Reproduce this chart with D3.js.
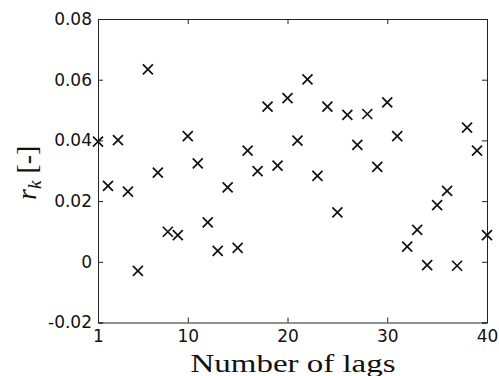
<!DOCTYPE html>
<html>
<head>
<meta charset="utf-8">
<script src="https://cdn.jsdelivr.net/npm/d3@7"></script>
<style>
  html, body { margin: 0; padding: 0; background: #fff; }
  svg { display: block; }
</style>
</head>
<body>
<svg id="chart" width="499" height="376"></svg>
<script>
// Sample autocorrelation r_k for lags 1..40
const lags = d3.range(1, 41);
const rk = [
  0.0396, 0.0250, 0.0401, 0.0231, -0.0030, 0.0634, 0.0294, 0.0099, 0.0088, 0.0414,
  0.0324, 0.0130, 0.0036, 0.0245, 0.0046, 0.0366, 0.0299, 0.0511, 0.0317, 0.0539,
  0.0399, 0.0601, 0.0283, 0.0511, 0.0163, 0.0484, 0.0385, 0.0487, 0.0313, 0.0525,
  0.0414, 0.0050, 0.0105, -0.0011, 0.0187, 0.0234, -0.0013, 0.0442, 0.0366, 0.0088
];
const xTicks = [1, 10, 20, 30, 40];
const yTicks = [-0.02, 0, 0.02, 0.04, 0.06, 0.08];
const xDomain = [1, 40];
const yDomain = [-0.02, 0.08];
const xLabel = "Number of lags";

const plotL = 98, plotR = 487, plotT = 19, plotB = 322.5;
const svg = d3.select("#chart");

const x = d3.scaleLinear().domain(xDomain).range([plotL, plotR]);
const y = d3.scaleLinear().domain(yDomain).range([plotB, plotT]);

const fmtY = v => v === 0 ? "0" : d3.format(".2f")(v).replace("\u2212", "-");
const tickFont = "'DejaVu Sans', sans-serif";
const ink = "#222";

// Axes with inward ticks on all four sides
const axes = [
  { gen: d3.axisBottom(x).tickValues(xTicks).tickSize(-5).tickPadding(7).tickFormat(d3.format("d")), t: `translate(0,${plotB})` },
  { gen: d3.axisTop(x).tickValues(xTicks).tickSize(-5).tickFormat(""), t: `translate(0,${plotT})` },
  { gen: d3.axisLeft(y).tickValues(yTicks).tickSize(-5).tickPadding(6).tickFormat(fmtY), t: `translate(${plotL},0)` },
  { gen: d3.axisRight(y).tickValues(yTicks).tickSize(-5).tickFormat(""), t: `translate(${plotR},0)` }
];
axes.forEach(a => {
  const g = svg.append("g").attr("transform", a.t).call(a.gen);
  g.select(".domain").attr("stroke", ink).attr("stroke-width", 1);
  g.selectAll(".tick line").attr("stroke", ink).attr("stroke-width", 1);
  g.selectAll(".tick text")
    .attr("fill", "#111")
    .style("font-family", tickFont)
    .style("font-size", "17px");
});

// Markers: "x" crosses
const h = 5;
const pts = svg.append("g")
  .attr("stroke", "#111")
  .attr("stroke-width", 1.7)
  .attr("fill", "none")
  .attr("stroke-linecap", "butt");
pts.selectAll("path")
  .data(lags.map((k, i) => ({ k, v: rk[i] })))
  .join("path")
  .attr("d", d => {
    const cx = x(d.k), cy = y(d.v);
    return `M${cx - h},${cy - h}L${cx + h},${cy + h}M${cx - h},${cy + h}L${cx + h},${cy - h}`;
  });

// X axis label
svg.append("text")
  .attr("x", (plotL + plotR) / 2 + 0.5)
  .attr("y", 371.5)
  .attr("text-anchor", "middle")
  .attr("textLength", 205)
  .attr("lengthAdjust", "spacingAndGlyphs")
  .style("font-family", "'Liberation Serif', 'Times New Roman', serif")
  .style("font-size", "25px")
  .attr("fill", "#111")
  .text(xLabel);

// Y axis label: r_k [-]
const yl = svg.append("text")
  .attr("transform", `translate(36,${(plotT + plotB) / 2 + 2}) rotate(-90)`)
  .attr("text-anchor", "middle")
  .style("font-family", "'Liberation Serif', 'Times New Roman', serif")
  .style("font-size", "28px")
  .attr("fill", "#111");
yl.append("tspan").style("font-style", "italic").text("r");
yl.append("tspan").style("font-style", "italic").style("font-size", "19px").attr("dy", 5).text("k");
yl.append("tspan").attr("dy", -5).text(" [-]");
</script>
</body>
</html>
